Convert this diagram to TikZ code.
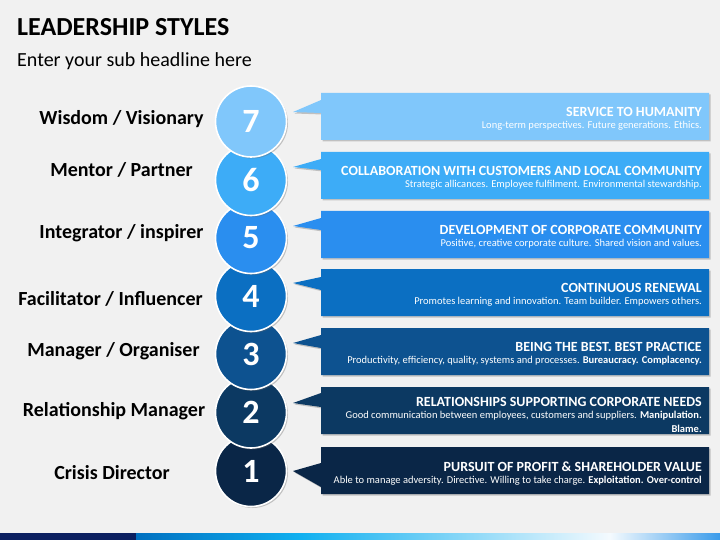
\documentclass[tikz,border=0pt]{standalone}
\usepackage{fontspec}
\setmainfont{Carlito}
\usetikzlibrary{shadows}
\definecolor{bg}{HTML}{F1F1F1}
\definecolor{c7}{HTML}{80C7FB}
\definecolor{c6}{HTML}{3DACF7}
\definecolor{c5}{HTML}{2A8EEF}
\definecolor{c4}{HTML}{0B6FC2}
\definecolor{c3}{HTML}{0D5290}
\definecolor{c2}{HTML}{0C3962}
\definecolor{c1}{HTML}{0A2647}
\definecolor{barnavy}{HTML}{0B2060}
\definecolor{barblue}{HTML}{0070C0}
\definecolor{barcyan}{HTML}{10B0F0}
\definecolor{barlight}{HTML}{F4FAFE}
\definecolor{barend}{HTML}{3A9BEA}
\newcommand\ttlf{\fontsize{14}{15}\selectfont\bfseries}
\newcommand\subf{\fontsize{10.5}{14}\selectfont\mdseries}
% #1 top y, #2 colour, #3 upper join, #4 tip y offset, #5 lower join
\newcommand\calloutshape[5]{%
  \fill[#2, shade drop] (321,#1) -- (709,#1) -- (709,#1+47) -- (321,#1+47)
     -- (321,#1+#5) -- (293,#1+#4) -- (321,#1+#3) -- cycle;}
\begin{document}
\begin{tikzpicture}[x=1pt,y=-1pt,
  shade drop/.style={drop shadow={shadow xshift=1.5pt,shadow yshift=-1.5pt,opacity=0.35,fill=black!60}},
  numcirc/.style={circle,minimum size=71pt,inner sep=0pt,draw=white,line width=1.6pt,
     text=white,font=\fontsize{34}{34}\selectfont\bfseries,shade drop},
  boxtext/.style={anchor=east,align=right,inner sep=0pt,text=white,font=\subf},
  lefttext/.style={anchor=base,inner sep=0pt,font=\fontsize{20}{22}\selectfont\bfseries,text=black}]
\useasboundingbox (0,0) rectangle (720,540);
\fill[bg] (0,0) rectangle (720,540);
% title
\node[anchor=base west,inner sep=0pt,font=\fontsize{26}{28}\selectfont\bfseries] (title) at (17,36) {LEADERSHIP STYLES};
\node[anchor=base west,inner sep=0pt,font=\fontsize{20}{22}\selectfont] (subtitle) at (17,66.5) {Enter your sub headline here};
% bottom bar
\fill[barnavy] (0,533) rectangle (136,540);
\shade[left color=barblue,right color=barcyan] (136,533) rectangle (300,540);
\shade[left color=barcyan,right color=barlight] (300,533) rectangle (610,540);
\shade[left color=barlight,right color=barend] (610,533) rectangle (720,540);
% callouts
\calloutshape{93}{c7}{7}{19}{20}
\calloutshape{152}{c6}{7}{15}{18}
\calloutshape{211}{c5}{7}{15}{19}
\calloutshape{269}{c4}{8}{14}{21}
\calloutshape{328}{c3}{7}{15}{20}
\calloutshape{387}{c2}{6}{16}{20}
\calloutshape{447}{c1}{16}{24}{40}
\node[boxtext] (r7) at (702,118.5) {{\ttlf SERVICE TO HUMANITY}\\[-2pt]Long-term perspectives. Future generations. Ethics.};
\node[boxtext] (r6) at (702,177.5) {{\ttlf COLLABORATION WITH CUSTOMERS AND LOCAL COMMUNITY}\\[-2pt]Strategic allicances. Employee fulfilment. Environmental stewardship.};
\node[boxtext] (r5) at (702,236.5) {{\ttlf DEVELOPMENT OF CORPORATE COMMUNITY}\\[-2pt]Positive, creative corporate culture. Shared vision and values.};
\node[boxtext] (r4) at (702,294.5) {{\ttlf CONTINUOUS RENEWAL}\\[-2pt]Promotes learning and innovation. Team builder. Empowers others.};
\node[boxtext] (r3) at (702,353.5) {{\ttlf BEING THE BEST. BEST PRACTICE}\\[-2pt]Productivity, efficiency, quality, systems and processes. \textbf{Bureaucracy. Complacency.}};
\node[boxtext] (r2) at (702,414.5) {{\ttlf RELATIONSHIPS SUPPORTING CORPORATE NEEDS}\\[-2pt]Good communication between employees, customers and suppliers. \textbf{Manipulation.}\\\textbf{Blame.}};
\node[boxtext] (r1) at (702,473.5) {{\ttlf PURSUIT OF PROFIT \& SHAREHOLDER VALUE}\\[-2pt]Able to manage adversity. Directive. Willing to take charge. \textbf{Exploitation. Over-control}};
% circles (bottom first)
\node[numcirc,fill=c1] (n1) at (251,471) {1};
\node[numcirc,fill=c2] (n2) at (251,412.5) {2};
\node[numcirc,fill=c3] (n3) at (251,354) {3};
\node[numcirc,fill=c4] (n4) at (251,296) {4};
\node[numcirc,fill=c5] (n5) at (251,238) {5};
\node[numcirc,fill=c6] (n6) at (251,180) {6};
\node[numcirc,fill=c7] (n7) at (251,121.5) {7};
% left labels
\node[lefttext] (l7) at (121.5,125) {Wisdom / Visionary};
\node[lefttext] (l6) at (121.5,177) {Mentor / Partner};
\node[lefttext] (l5) at (121.5,238) {Integrator / inspirer};
\node[lefttext] (l4) at (110.5,305) {Facilitator / Influencer};
\node[lefttext] (l3) at (113.5,356) {Manager / Organiser};
\node[lefttext] (l2) at (114,416) {Relationship Manager};
\node[lefttext] (l1) at (112,479) {Crisis Director};
\end{tikzpicture}
\end{document}
